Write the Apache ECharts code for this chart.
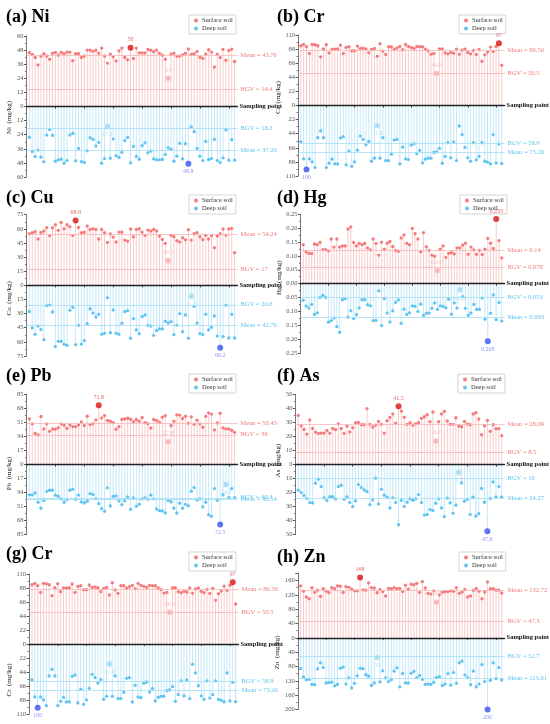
<!DOCTYPE html>
<html><head><meta charset="utf-8">
<script src="https://cdn.jsdelivr.net/npm/echarts@6/dist/echarts.min.js"></script>
<style>html,body{margin:0;padding:0;background:#fff}#c{width:550px;height:724px}</style>
</head><body><div id="c"></div><script>
// ---- Data (72 sampling points per element) ----
const niSurface = [46,44.3,41.7,35.4,42.9,45,43,40.3,45.4,46, 43.7,46,45,46.3,46.3,39,45,44.9,41.7,43, 48,48,47,48,45.4,49.7,43,37,44.6,42.3, 38.9,47.4,49.7,41.7,39.7,50,40.9,49.7,45.7,45.7, 45.7,48.6,48,46.6,48,45.4,43.7,40.3,24,44.6, 45.4,42.9,42.9,44,45.4,49,44.3,45,47,42, 41,44.6,48.3,46.3,33.7,44.6,41.7,48.6,39.4,47.7, 48.9,38.3];
const niDeep = [26.3,38.3,42.6,37.1,43.1,47.1,24.3,19.7,24.6,46.6, 45.4,44.9,48.3,46,24.3,22.9,46.3,35.7,46.9,47.7, 37.7,26.6,28,33.7,30.6,48.3,44.3,17.1,44,27.7, 42,43.4,39.1,29.1,26.3,48,34,42.6,44.9,33.4, 30.9,39.4,38,44.6,45.4,45.4,45.1,40.9,35.1,36.6, 46.6,42.3,31.4,44.6,31.7,48.8,17.4,21.4,35.7,42.3, 46,29.7,45.1,44.3,28,46,47.7,43.7,20,45.7, 28.3,45.7];
const crSurface = [93.2,95.3,91.7,81.2,95.3,94.8,93.2,76,88.5,94.8, 82.2,88,88,88.5,94.3,81.2,90.6,91.7,85.4,85.4, 92.7,89,89.6,88.5,82.2,87.5,89,77,96.4,84.9, 79.6,91.7,91.7,88,90,92.2,87,95.3,92.2,90.6, 89,92.2,91.7,91.7,88,85.4,80.1,81.2,49.8,88.5, 88.5,82.2,80.7,82.8,81.7,88,80.1,86.4,88,82.8, 80.7,85.9,79.6,87.5,69.1,79.1,83.3,91.1,84.3,92.2, 97,62.9];
const crDeep = [56.6,83.3,100,83.3,88,96.9,50.3,39.8,50.3,96.9, 90.1,83.8,91.1,91.1,50.8,48.7,92.7,71.2,94.8,88, 69.7,47.7,52.9,61.3,56,87,82.2,31.4,82.2,50.3, 85.9,85.9,76,54,52.9,91.1,65,83.3,84.3,61.8, 59.7,75.4,70.2,89.6,83.8,82.2,82.2,73.3,72.3,67, 90.1,79.6,58.1,81.7,56.6,85.9,32,45.6,65.5,81.7, 87,58.1,84.9,79.6,58.1,87,88.5,91.1,45.6,89.6, 60.2,90.6];
const cuSurface = [54.8,55.9,57,49.2,56.2,57.7,61.2,52.7,61.2,64.4, 58.4,66.9,60.1,64.4,62.3,53.1,68.9,61.5,55.9,56.6, 63,59.4,60.1,59.4,49.2,59.4,55.9,45.6,54.5,51.3, 46,56.6,56.6,48.1,47,59.8,51.6,59.4,60.1,56.6, 53.1,58.7,57.7,59.4,57.7,52.4,48.8,44.6,26.2,53.1, 51.6,47.4,46,50.6,48.5,59.1,48.1,54.8,55.9,51.6, 48.5,53.1,49.2,52.7,40,52.4,54.8,59.8,53.4,59.8, 60.5,34.7];
const cuDeep = [27.9,45.3,52,43.2,47,57.7,21.6,20.9,28.3,65.1, 59.4,59.4,62.6,63.7,26.5,23.3,63,42.4,62.3,58.7, 40.7,25.1,29.4,33.6,30.8,52,50.9,13.1,50.2,26.2, 50.9,52,40.3,27.9,26.9,56.2,35.4,47.4,51.3,33.3, 31.5,42.4,43.2,53.1,48.1,46.3,46.3,38.2,40,38.6, 52.4,42.4,30.1,49.2,31.5,56.2,11.7,22.3,40,51.3, 52.4,30.8,47.4,44.6,32.5,53.8,66.2,54.5,21.2,55.9, 30.8,55.9];
const hgSurface = [0.141,0.115,0.109,0.109,0.143,0.141,0.149,0.123,0.123,0.118, 0.161,0.132,0.161,0.132,0.136,0.136,0.197,0.205,0.149,0.136, 0.145,0.141,0.145,0.129,0.122,0.161,0.145,0.103,0.150,0.124, 0.146,0.152,0.134,0.120,0.117,0.165,0.176,0.146,0.140,0.199, 0.180,0.161,0.115,0.184,0.133,0.120,0.103,0.099,0.047,0.124, 0.136,0.095,0.109,0.112,0.107,0.129,0.129,0.139,0.146,0.106, 0.132,0.122,0.106,0.120,0.105,0.124,0.163,0.146,0.127,0.233, 0.155,0.093];
const hgDeep = [0.060,0.081,0.088,0.075,0.111,0.105,0.050,0.042,0.050,0.139, 0.133,0.124,0.155,0.176,0.058,0.054,0.121,0.098,0.126,0.112, 0.088,0.058,0.058,0.076,0.080,0.133,0.133,0.026,0.151,0.054, 0.106,0.138,0.098,0.068,0.059,0.143,0.092,0.111,0.105,0.080, 0.082,0.100,0.074,0.115,0.107,0.106,0.089,0.070,0.093,0.080, 0.082,0.087,0.056,0.110,0.070,0.088,0.022,0.047,0.089,0.114, 0.106,0.075,0.093,0.093,0.052,0.128,0.208,0.107,0.041,0.130, 0.068,0.135];
const pbSurface = [55.3,49.2,37.8,35.8,58.1,43.1,49.2,40.2,43.1,42.7, 44.7,49.2,47.6,43.9,48,45.9,45.9,48,51.6,47.2, 58.5,48.4,49.6,54.1,71.8,56.5,59.3,53.3,52.4,50.8, 42.7,45.9,54.5,55.3,56.1,54.9,52,54.5,52.4,56.9, 50.8,49.6,44.3,54.5,53.3,51.2,57.3,59.3,27.6,47.2, 52.4,60.2,59.8,55.7,58.5,50,57.7,48.8,53.7,49.2, 45.1,58.5,62.6,61,41.9,50.4,62.2,44.3,43.1,43.1, 41.5,39];
const pbDeep = [36.8,36.8,34.4,45.7,53,43.7,32.8,31.2,31.2,37.2, 38.5,41.7,45.7,42.5,31.2,30,42.1,37.2,45.3,46.6, 44.5,35.2,36.4,41.3,47.4,53.4,56.7,28.3,50.2,38.5, 38.1,44.1,48.6,44.1,39.3,54.3,40.5,50.6,48.2,41.7, 40.5,42.1,37.2,41.7,53.8,55.9,56.3,58.7,43.7,45.3, 53,58.7,47,53,48.2,50.2,32.4,27.9,42.9,41.7, 51.4,45.7,60.7,62.8,29.1,43.3,72.5,36.8,24.3,40.1, 29.1,40.1];
const asSurface = [35,27.6,25,21.7,31.7,25.7,23.1,22.1,22.4,22.4, 24.3,22.4,25.7,24.8,29,25.7,22.1,27.4,23.3,26.2, 29.8,30,28.3,28.3,39.8,28.6,26.7,28.1,30.7,28.6, 22.4,31.2,33.6,36,29.5,41.5,38.1,33.6,28.6,29.8, 28.1,29,30,32.9,34,35.5,30.5,37.4,16.7,30.5, 36,37.9,31,28.6,28.6,33.3,27.4,26.9,30.7,28.8, 28.3,36,36.9,32.4,21.2,27.6,31.4,23.6,28.3,25.5, 25.5,20.5];
const asDeep = [18.3,20,22.1,24.3,27.1,27.4,13.3,10.5,15.7,23.8, 25.7,22.9,22.9,24.5,15.7,14.8,24.8,23.1,27.1,30, 26,14.3,16.4,18.1,19.3,28.6,25.2,9.8,28.1,17.6, 21.9,23.3,31,23.8,27.1,42.9,25.5,30,26.9,24.5, 25.5,24.5,21.4,27.1,36,35.7,32.1,32.9,27.6,24.5, 31,37.1,24,27.4,34.8,29,5.7,13.1,26.2,24.8, 35.7,23.3,36.7,35,17.1,26.9,47.6,24.3,12.4,23.1, 15.7,23.3];
const znSurface = [145,130,114,109,140,127,133,116,137,130, 126,140,137,145,144,127,143,141,136,131, 131,168,134,133,153,140,139,126,135,129, 117,138,137,140,137,138,129,147,136,150, 148,152,127,157,139,124,122,131,99.5,120, 127,129,129,131,130,140,124,128,135,114, 117,132,138,130,109,128,156,137,137,133, 133,125];
const znDeep = [86,109,117,116,130,131,87,70,83,126, 125,124,134,130,85,82,129,112,140,127, 106,85,86,103,107,133,126,55,123,92, 112,122,117,93,84,137,100,126,126,99, 94,111,105,116,130,129,130,124,111,108, 133,129,100,132,97,127,70,65,104,111, 131,93,137,129,75,122,200,119,70,114, 83,118];

// reference lines: [surface mean, surface BGV, deep BGV, deep mean]
const niLevels = [43.76, 14.4, 18.2, 37.26];
const niLabels = ['Mean = 43.76', 'BGV = 14.4', 'BGV = 18.2', 'Mean = 37.26'];
const crLevels = [86.56, 50.5, 58.9, 73.26];
const crLabels = ['Mean = 86.56', 'BGV = 50.5', 'BGV = 58.9', 'Mean = 73.26'];
const cuLevels = [54.24, 17, 20.6, 42.76];
const cuLabels = ['Mean = 54.24', 'BGV = 17', 'BGV = 20.6', 'Mean = 42.76'];
const hgLevels = [0.117, 0.059, 0.053, 0.118];
const hgLabels = ['Mean = 0.14', 'BGV = 0.078', 'BGV = 0.053', 'Mean = 0.093'];
const pbLevels = [50.43, 36, 40.3, 42.54];
const pbLabels = ['Mean = 50.43', 'BGV = 36', 'BGV = 40.3', 'Mean = 42.54'];
const asLevels = [28.99, 8.5, 10, 24.27];
const asLabels = ['Mean = 28.99', 'BGV = 8.5', 'BGV = 10', 'Mean = 24.27'];
const znLevels = [132.72, 47.3, 51.7, 113.61];
const znLabels = ['Mean = 132.72', 'BGV = 47.3', 'BGV = 51.7', 'Mean = 113.61'];

const legendNames = ['Surface soil', 'Deep soil'];
const xAxisName = 'Sampling point';

// ---- Layout / style ----
const FONT = '"Liberation Serif", "Times New Roman", serif';
const SURF = '#f25c5c', SURF_STEM = '#f9caca', SURF_LINE = '#f6b6b6', SURF_TXT = '#f07a7a';
const DEEP = '#3cb6ef', DEEP_STEM = '#c2e8f9', DEEP_LINE = '#a6ddf5', DEEP_TXT = '#5cc2f0';

const panels = [
  {title:'(a) Ni', yName:'Ni  (mg/kg)', surf:niSurface, deep:niDeep, lv:niLevels, lb:niLabels, min:-60, max:60, iv:12, dec:0,
   grid:{left:26.5, top:36, width:211, height:141}, tpos:[6,8], lpos:[189,15], nameShift:11},
  {title:'(b) Cr', yName:'Cr  (mg/kg)', surf:crSurface, deep:crDeep, lv:crLevels, lb:crLabels, min:-110, max:110, iv:22, dec:0,
   grid:{left:298, top:35, width:209, height:141}, tpos:[277,8], lpos:[459,15], nameShift:-8},
  {title:'(c) Cu', yName:'Cu  (mg/kg)', surf:cuSurface, deep:cuDeep, lv:cuLevels, lb:cuLabels, min:-75, max:75, iv:15, dec:0,
   grid:{left:26.5, top:214.7, width:211, height:141.3}, tpos:[6,189], lpos:[189,195], nameShift:13},
  {title:'(d) Hg', yName:'Hg  (mg/kg)', surf:hgSurface, deep:hgDeep, lv:hgLevels, lb:hgLabels, min:-0.25, max:0.25, iv:0.05, dec:2,
   grid:{left:300.5, top:214.3, width:207.4, height:138.7}, tpos:[277,189], lpos:[460,195], nameShift:-6},
  {title:'(e) Pb', yName:'Pb  (mg/kg)', surf:pbSurface, deep:pbDeep, lv:pbLevels, lb:pbLabels, min:-85, max:85, iv:17, dec:0,
   grid:{left:26.5, top:394.3, width:211, height:140.4}, tpos:[6,367], lpos:[189,374], deepMeanPad:4, nameShift:9},
  {title:'(f) As', yName:'As  (mg/kg)', surf:asSurface, deep:asDeep, lv:asLevels, lb:asLabels, min:-50, max:50, iv:10, dec:0,
   grid:{left:295.4, top:394.3, width:211.9, height:140.4}, tpos:[277,367], lpos:[458,374], nameShift:-4},
  {title:'(g) Cr', yName:'Cr  (mg/kg)', surf:crSurface, deep:crDeep, lv:crLevels, lb:crLabels, min:-110, max:110, iv:22, dec:0,
   grid:{left:29.1, top:574, width:209.4, height:140}, tpos:[6,545], lpos:[189,552], nameShift:36},
  {title:'(h) Zn', yName:'Zn  (mg/kg)', surf:znSurface, deep:znDeep, lv:znLevels, lb:znLabels, min:-200, max:180, iv:40, dec:0,
   grid:{left:297.8, top:573.3, width:209.3, height:136.2}, tpos:[277,548], lpos:[459,552], nameShift:11}
];

const cats = Array.from({length: 74}, (_, i) => String(i));

function pointData(vals, sign, kind) {
  const maxV = Math.max(...vals), minV = Math.min(...vals);
  const maxI = vals.indexOf(maxV), minI = vals.indexOf(minV);
  return vals.map((v, k) => {
    const item = {value: [k + 1, sign * v]};
    const pos = sign > 0 ? 'top' : 'bottom';
    if (k === maxI) {
      item.symbolSize = 6;
      item.itemStyle = {color: kind === 's' ? '#d81010' : '#3a50ee'};
      item.label = {show: true, position: pos, distance: 2, formatter: String(v),
        fontSize: 6, fontFamily: FONT, color: kind === 's' ? '#e03a3a' : '#6a7cf0'};
      item.z = 5;
    } else if (k === minI) {
      item.symbolSize = 5.5;
      item.itemStyle = {color: kind === 's' ? '#f5a9a9' : '#95d6f6', borderColor: kind === 's' ? '#fbd9d9' : '#cdeefb', borderWidth: 1};
      item.label = {show: true, position: pos, distance: 2, formatter: String(v),
        fontSize: 6, fontFamily: FONT, color: kind === 's' ? '#f4b0b0' : '#9fd8f4'};
    }
    return item;
  });
}

function namePad(s) {
  return s >= 0 ? [0, 2 * s, 0, 0] : [0, 0, 0, -2 * s];
}

const option = {
  animation: false,
  backgroundColor: '#fff',
  title: panels.map(p => ({text: p.title, left: p.tpos[0], top: p.tpos[1], padding: 0,
    textStyle: {fontFamily: FONT, fontWeight: 'bold', fontSize: 18, color: '#000'}})),
  legend: panels.map(p => ({data: legendNames, orient: 'vertical', left: p.lpos[0], top: p.lpos[1],
    icon: 'circle', itemWidth: 4, itemHeight: 4, itemGap: 1, padding: [2, 3, 2, 5],
    borderColor: '#bbb', borderWidth: 0.6, selectedMode: false,
    textStyle: {fontFamily: FONT, fontSize: 6.5, color: '#333', padding: [0, 0, 0, -1]}})),
  grid: panels.map(p => Object.assign({containLabel: false}, p.grid)),
  xAxis: panels.map((p, i) => ({gridIndex: i, type: 'category', data: cats, boundaryGap: false, z: 10,
    name: xAxisName, nameLocation: 'end', nameGap: 2,
    nameTextStyle: {fontFamily: FONT, fontSize: 6.5, fontWeight: 'bold', color: '#111'},
    axisLine: {onZero: true, lineStyle: {color: '#222', width: 1.3}},
    axisTick: {show: true, length: 2, interval: 9, lineStyle: {color: '#333'}},
    axisLabel: {show: false, interval: 9}, splitLine: {show: false}})),
  yAxis: panels.map((p, i) => ({gridIndex: i, type: 'value', min: p.min, max: p.max, interval: p.iv,
    name: p.yName, nameLocation: 'middle', nameGap: 13, nameRotate: 90,
    nameTextStyle: {fontFamily: FONT, fontSize: 7, color: '#222', padding: namePad(p.nameShift)},
    axisLine: {show: true, lineStyle: {color: '#555', width: 0.8}},
    axisTick: {show: true, length: 2.5, lineStyle: {color: '#555'}},
    minorTick: {show: true, splitNumber: 2, length: 1.5, lineStyle: {color: '#777'}},
    splitLine: {show: false},
    axisLabel: {fontFamily: FONT, fontSize: 6.5, color: '#555', margin: 3,
      formatter: (v) => {
        const r = v / p.iv;
        if (Math.abs(r - Math.round(r)) > 1e-6) return '';
        const a = Math.abs(v);
        return p.dec ? a.toFixed(p.dec) : String(Math.round(a));
      }}})),
  series: []
};

panels.forEach((p, i) => {
  const lineLabel = (txt, color, extra) => Object.assign({formatter: txt, color: color, position: 'end', distance: 3,
    fontFamily: FONT, fontSize: 6.5}, extra || {});
  option.series.push(
    {type: 'bar', name: 'stemS' + i, xAxisIndex: i, yAxisIndex: i, silent: true, z: 1,
      barWidth: 1, barGap: '-100%', itemStyle: {color: SURF_STEM},
      data: p.surf.map((v, k) => [k + 1, v])},
    {type: 'bar', name: 'stemD' + i, xAxisIndex: i, yAxisIndex: i, silent: true, z: 1,
      barWidth: 1, barGap: '-100%', itemStyle: {color: DEEP_STEM},
      data: p.deep.map((v, k) => [k + 1, -v])},
    {type: 'scatter', name: legendNames[0], xAxisIndex: i, yAxisIndex: i, z: 3,
      symbol: 'circle', symbolSize: 3.3, itemStyle: {color: SURF},
      data: pointData(p.surf, 1, 's'),
      markLine: {silent: true, symbol: 'none', animation: false,
        lineStyle: {color: SURF_LINE, width: 0.8, type: 'solid'},
        data: [
          {yAxis: p.lv[0], label: lineLabel(p.lb[0], SURF_TXT)},
          {yAxis: p.lv[1], label: lineLabel(p.lb[1], SURF_TXT)}
        ]}},
    {type: 'scatter', name: legendNames[1], xAxisIndex: i, yAxisIndex: i, z: 3,
      symbol: 'circle', symbolSize: 3.3, itemStyle: {color: DEEP},
      data: pointData(p.deep, -1, 'd'),
      markLine: {silent: true, symbol: 'none', animation: false,
        lineStyle: {color: DEEP_LINE, width: 0.8, type: 'solid'},
        data: [
          {yAxis: -p.lv[2], label: lineLabel(p.lb[2], DEEP_TXT)},
          {yAxis: -p.lv[3], label: lineLabel(p.lb[3], DEEP_TXT, p.deepMeanPad ? {padding: [p.deepMeanPad * 2, 0, 0, 0]} : null)}
        ]}}
  );
});

const chart = echarts.init(document.getElementById('c'), null, {renderer: 'canvas'});
chart.setOption(option);
</script></body></html>
